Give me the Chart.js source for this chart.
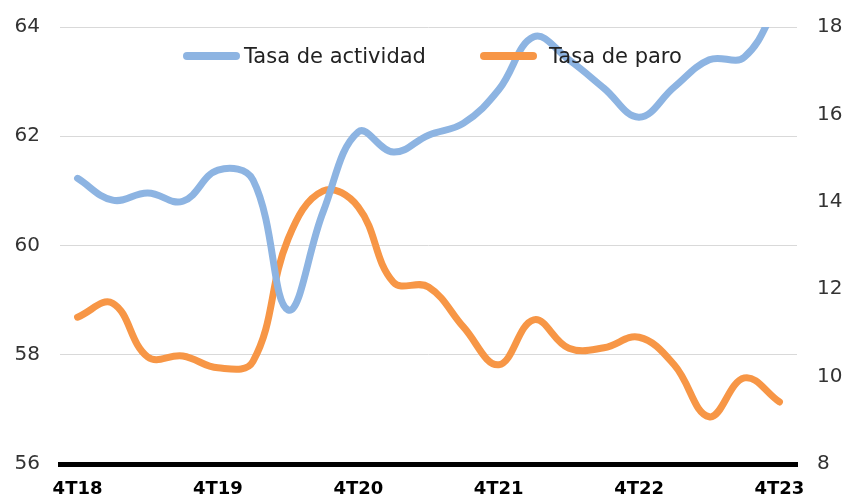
<!DOCTYPE html>
<html>
<head>
<meta charset="utf-8">
<script src="https://cdn.jsdelivr.net/npm/chart.js@4.4.0/dist/chart.umd.min.js"></script>
<style>
  body { margin: 0; background: #fff; }
  #wrap { position: relative; width: 847px; height: 497px; }
  .leg { position: absolute; top: 44px; font-family: "DejaVu Sans", Verdana, sans-serif; font-size: 21px; color: #222; display: flex; align-items: center; }
  .leg i { display: inline-block; width: 57px; height: 8px; border-radius: 4px; }
</style>
</head>
<body>
<div id="wrap">
  <canvas id="myChart" width="847" height="497"></canvas>
  <div class="leg" style="left:183px"><i style="background:#8db4e2;margin-right:4px"></i>Tasa de actividad</div>
  <div class="leg" style="left:480px"><i style="background:#f79646;margin-right:12px"></i>Tasa de paro</div>
</div>
<script>
const quarters = [
	"4T18", "1T19", "2T19", "3T19", "4T19", "1T20", "2T20", "3T20", "4T20",
	"1T21", "2T21", "3T21", "4T21", "1T22", "2T22", "3T22", "4T22",
	"1T23", "2T23", "3T23", "4T23",
];
const tasaActividad = [
	61.23, 60.83, 60.96, 60.81, 61.38, 61.2, 58.82, 60.62, 62.08,
	61.71, 62.02, 62.24, 62.85, 63.82, 63.4, 62.88, 62.35,
	62.9, 63.4, 63.45, 64.5,
];
const tasaParo = [
	11.36, 11.68, 10.45, 10.47, 10.2, 10.35, 13.15, 14.25, 13.88,
	12.16, 12.05, 11.13, 10.27, 11.3, 10.65, 10.66, 10.9,
	10.27, 9.08, 9.97, 9.42,
];
const leftTicks = [56, 58, 60, 62, 64];
const rightTicks = [8, 10, 12, 14, 16, 18];

const ctx = document.getElementById("myChart");
const font = "'DejaVu Sans', Verdana, sans-serif";

// fixed axis sizes so the plot area sits where it does in the original
const fixY = (w) => (s) => {
	s.width = w;
	s.paddingTop = 0;
	s.paddingBottom = 0;
};

const myChart = new Chart(ctx, {
	type: "line",
	data: {
		labels: quarters,
		datasets: [
			{
				label: "Tasa de actividad",
				data: tasaActividad,
				yAxisID: "y",
				borderColor: "#8db4e2",
				borderWidth: 7,
				borderCapStyle: "round",
				pointRadius: 0,
				tension: 0.4,
			},
			{
				label: "Tasa de paro",
				data: tasaParo,
				yAxisID: "y2",
				borderColor: "#f79646",
				borderWidth: 7,
				borderCapStyle: "round",
				pointRadius: 0,
				tension: 0.4,
			},
		],
	},
	options: {
		responsive: false,
		animation: false,
		layout: { padding: { top: 27, left: 0, right: 0, bottom: 0 } },
		plugins: { legend: { display: false }, tooltip: { enabled: false } },
		scales: {
			x: {
				offset: true,
				grid: { display: false },
				border: { display: true, color: "#000", width: 5 },
				ticks: {
					autoSkip: false,
					maxRotation: 0,
					padding: 7,
					color: "#000",
					font: { family: font, size: 18, weight: "bold" },
					callback: (v, i) => (quarters[i].startsWith("4T") ? quarters[i] : ""),
				},
				afterFit: (s) => {
					s.height = 33;
					s.paddingLeft = 0;
					s.paddingRight = 0;
				},
			},
			y: {
				position: "left",
				min: leftTicks[0],
				max: leftTicks[leftTicks.length - 1],
				afterBuildTicks: (s) => { s.ticks = leftTicks.map((v) => ({ value: v })); },
				grid: { color: "#d9d9d9", lineWidth: 1, drawTicks: false },
				border: { display: false },
				ticks: { padding: 20, color: "#333", font: { family: font, size: 20 } },
				afterFit: fixY(60),
			},
			y2: {
				position: "right",
				min: rightTicks[0],
				max: rightTicks[rightTicks.length - 1],
				afterBuildTicks: (s) => { s.ticks = rightTicks.map((v) => ({ value: v })); },
				grid: { drawOnChartArea: false, drawTicks: false },
				border: { display: false },
				ticks: { padding: 20, color: "#333", font: { family: font, size: 20 } },
				afterFit: fixY(50),
			},
		},
	},
});
</script>
</body>
</html>
